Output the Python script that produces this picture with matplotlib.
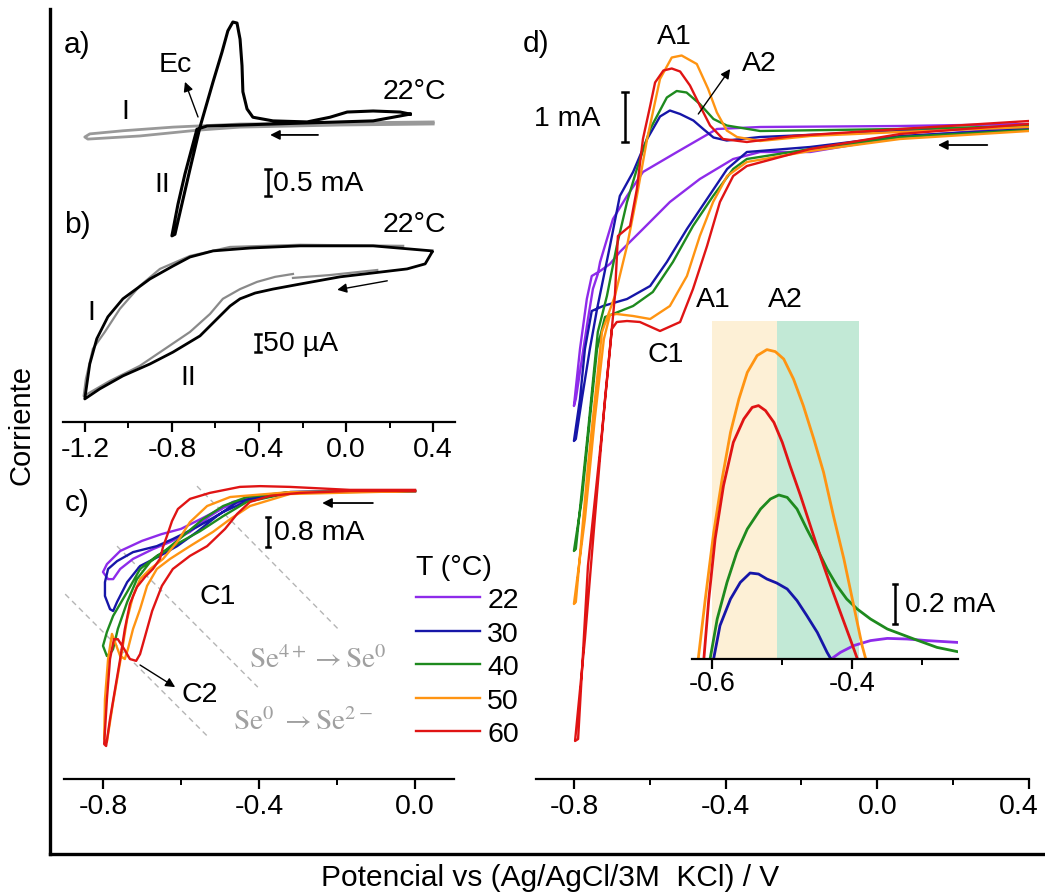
import matplotlib
matplotlib.use("Agg")
import matplotlib.pyplot as plt
from matplotlib.lines import Line2D
from matplotlib.ticker import MultipleLocator
from matplotlib.transforms import ScaledTranslation

plt.rcParams['font.family'] = ['Liberation Sans', 'DejaVu Sans']
plt.rcParams['axes.unicode_minus'] = False
plt.rcParams['mathtext.fontset'] = 'stix'

W, H = 1045, 895
FS = 20.5

# ---------------- data ----------------
temps = ['22', '30', '40', '50', '60']
colors = ['#8E2BEA', '#1616A8', '#1E8A1E', '#FF9412', '#E01414']

# panel a (V, mA)
a_gray_v = [0.40, -0.028, -0.487, -0.795, -1.025, -1.177, -1.2, -1.186, -0.947, -0.685, -0.487, -0.028, 0.40]
a_gray_i = [0.04, 0.02, 0.0, -0.06, -0.13, -0.19, -0.25, -0.29, -0.23, -0.12, -0.06, -0.02, 0.0]
a_black_v = [0.294, 0.124, -0.336, -0.639, -0.685, -0.740, -0.772, -0.800, -0.786, -0.754, -0.717, -0.671,
             -0.611, -0.570, -0.543, -0.520, -0.501, -0.487, -0.478, -0.474, -0.455, -0.428, -0.336, -0.179,
             -0.074, 0.005, 0.124, 0.248, 0.294]
a_black_i = [0.19, 0.06, 0.0, -0.04, -0.10, -0.96, -1.54, -2.15, -2.12, -1.54, -0.87, -0.06,
             0.81, 1.38, 1.79, 1.96, 1.94, 1.63, 1.12, 0.62, 0.29, 0.13, 0.06, 0.04,
             0.13, 0.23, 0.25, 0.23, 0.19]

# panel b (V, uA)
b_black_v = [0.395, 0.124, -0.211, -0.441, -0.611, -0.717, -0.795, -0.901, -1.025, -1.094, -1.145, -1.177, -1.2,
             -1.131, -1.025, -0.901, -0.795, -0.671, -0.593, -0.533, -0.487, -0.418, -0.336, -0.211, -0.028,
             0.280, 0.363, 0.395]
b_black_i = [0, 14, 14, 8, 0, -17, -42, -78, -133, -183, -244, -314, -411,
             -383, -347, -314, -281, -236, -189, -153, -133, -117, -106, -92, -72, -50, -36, -3]
b_gray_v = [0.262, -0.211, -0.533, -0.717, -0.855, -0.947, -1.039, -1.108, -1.163, -1.195, -1.205,
            -1.085, -0.947, -0.832, -0.717, -0.625, -0.566, -0.487, -0.409, -0.326, -0.244]
b_gray_i = [14, 17, 11, -14, -50, -97, -161, -225, -272, -356, -403,
            -361, -319, -272, -225, -175, -133, -106, -86, -72, -64]
b_gray2_v = [-0.244, -0.074, 0.143]
b_gray2_i = [-75, -67, -53]

# panel c (V, mA)
c_v = [
    [0.0, -0.32, -0.42, -0.49, -0.55, -0.60, -0.65, -0.70, -0.756, -0.79, -0.80, -0.787,
     -0.774, -0.756, -0.723, -0.672, -0.628, -0.577, -0.526, -0.467, -0.39, -0.32, 0.0],
    [0.0, -0.321, -0.431, -0.492, -0.559, -0.621, -0.662, -0.723, -0.764, -0.787, -0.795, -0.795, -0.782, -0.774,
     -0.764, -0.738, -0.705, -0.654, -0.610, -0.559, -0.508, -0.456, -0.390, -0.321, 0.0],
    [0.0, -0.321, -0.431, -0.492, -0.551, -0.610, -0.662, -0.705, -0.738, -0.774, -0.790, -0.800, -0.790, -0.777,
     -0.774, -0.762, -0.738, -0.713, -0.679, -0.636, -0.595, -0.544, -0.492, -0.431, -0.321, 0.0],
    [0.0, -0.321, -0.423, -0.474, -0.518, -0.577, -0.628, -0.662, -0.687, -0.705, -0.723, -0.736, -0.744, -0.756,
     -0.777, -0.787, -0.795, -0.797,
     -0.790, -0.774, -0.756, -0.738, -0.723, -0.705, -0.679, -0.646, -0.610, -0.577, -0.533, -0.474, -0.321, 0.0],
    [0.0, -0.167, -0.295, -0.372, -0.423, -0.456, -0.487, -0.533, -0.577, -0.621, -0.649, -0.674, -0.692, -0.705,
     -0.715, -0.731, -0.746, -0.762, -0.772, -0.782, -0.790, -0.797,
     -0.792, -0.782, -0.769, -0.756, -0.744, -0.731, -0.713, -0.692, -0.672, -0.654, -0.646, -0.636, -0.623,
     -0.608, -0.577, -0.526, -0.449, -0.397, -0.321, -0.167, 0.0],
]
c_i = [
    [0.0, -0.03, -0.21, -0.43, -0.75, -1.01, -1.15, -1.33, -1.60, -1.95, -2.16, -2.35,
     -2.35, -2.08, -1.81, -1.55, -1.36, -1.09, -0.67, -0.29, -0.13, -0.03, 0.0],
    [0.0, -0.03, -0.27, -0.56, -0.96, -1.28, -1.47, -1.63, -1.87, -2.08, -2.43, -2.80, -3.15, -3.20,
     -2.96, -2.43, -2.00, -1.73, -1.47, -1.09, -0.67, -0.29, -0.13, -0.03, 0.0],
    [0.0, -0.05, -0.29, -0.67, -1.07, -1.41, -1.73, -2.08, -2.69, -3.33, -3.76, -4.13, -4.40, -4.27,
     -4.21, -3.68, -2.96, -2.35, -1.89, -1.55, -1.20, -0.75, -0.40, -0.16, -0.03, 0.0],
    [0.0, -0.08, -0.40, -0.75, -1.09, -1.47, -1.81, -2.08, -2.53, -3.15, -3.68, -4.21, -4.48, -4.40,
     -3.81, -4.48, -5.55, -6.61,
     -6.69, -5.63, -4.56, -3.41, -2.80, -2.35, -2.08, -1.81, -1.36, -0.83, -0.40, -0.16, -0.03, 0.0],
    [0.0, 0.0, -0.05, -0.13, -0.29, -0.61, -1.01, -1.47, -1.73, -2.08, -2.53, -3.20, -3.87, -4.35,
     -4.53, -4.48, -4.21, -3.95, -3.95, -4.48, -5.55, -6.75,
     -6.80, -6.08, -5.28, -4.48, -3.68, -3.01, -2.56, -2.29, -2.08, -1.81, -1.49, -1.20, -0.80,
     -0.48, -0.21, -0.05, 0.11, 0.13, 0.11, 0.03, 0.03],
]
# guide lines in panel c (V, mA)
c_guides = [((-0.559, -0.197), (0.13, -3.68)),
            ((-0.764, -0.403), (-1.47, -5.23)),
            ((-0.897, -0.533), (-2.75, -6.53))]

# panel d (V, mA)
d_v = [
    [0.4, 0.06, -0.177, -0.309, -0.380, -0.468, -0.547, -0.618, -0.679, -0.705, -0.731, -0.753, -0.766, -0.784, -0.800,
     -0.795, -0.779, -0.763, -0.750, -0.737, -0.731, -0.697, -0.660, -0.618, -0.528, -0.423, -0.309, 0.06, 0.4],
    [0.4, 0.06, -0.177, -0.344, -0.396, -0.449, -0.502, -0.555, -0.599, -0.660, -0.723, -0.753, -0.771, -0.784, -0.800,
     -0.795, -0.779, -0.758, -0.739, -0.705, -0.679, -0.644, -0.607, -0.573, -0.547, -0.520, -0.485, -0.459,
     -0.432, -0.397, -0.309, 0.06, 0.4],
    [0.4, 0.06, -0.177, -0.344, -0.380, -0.433, -0.486, -0.539, -0.592, -0.644, -0.697, -0.718, -0.739, -0.758,
     -0.779, -0.800,
     -0.795, -0.763, -0.737, -0.713, -0.687, -0.660, -0.634, -0.599, -0.555, -0.529, -0.503, -0.468, -0.432,
     -0.397, -0.309, 0.06, 0.4],
    [0.4, 0.06, -0.177, -0.344, -0.396, -0.433, -0.468, -0.502, -0.547, -0.599, -0.644, -0.687, -0.705, -0.721,
     -0.745, -0.771, -0.800,
     -0.795, -0.763, -0.726, -0.692, -0.660, -0.634, -0.607, -0.573, -0.542, -0.516, -0.476, -0.446, -0.423,
     -0.397, -0.370, -0.309, -0.177, 0.06, 0.4],
    [0.4, 0.06, -0.177, -0.344, -0.380, -0.415, -0.449, -0.486, -0.520, -0.573, -0.626, -0.660, -0.687, -0.700,
     -0.718, -0.745, -0.771, -0.797,
     -0.789, -0.763, -0.726, -0.705, -0.692, -0.684, -0.652, -0.634, -0.618, -0.599, -0.586, -0.564, -0.542,
     -0.520, -0.494, -0.468, -0.441, -0.407, -0.344, -0.222, 0.06, 0.4],
]
d_i = [
    [0.04, -0.16, -0.46, -0.46, -0.60, -1.00, -1.46, -2.00, -2.46, -2.70, -2.84, -2.94, -3.40, -4.40, -5.54,
     -5.40, -4.60, -3.80, -3.20, -2.90, -2.66, -1.80, -1.34, -0.86, -0.46, 0.0, 0.04, 0.06, 0.10],
    [0.0, -0.14, -0.36, -0.46, -0.80, -1.40, -2.00, -2.66, -3.14, -3.40, -3.54, -3.64, -4.40, -5.40, -6.24,
     -6.20, -5.40, -4.40, -3.60, -2.34, -1.34, -0.86, -0.20, 0.25, 0.37, 0.30, 0.17, 0.0,
     -0.17, -0.23, -0.16, -0.04, 0.04],
    [-0.02, -0.16, -0.40, -0.60, -0.80, -1.34, -1.94, -2.66, -3.26, -3.54, -3.70, -3.76, -4.40, -5.80,
     -7.40, -8.44,
     -8.40, -6.06, -4.06, -3.34, -2.34, -1.46, -0.80, 0.0, 0.63, 0.76, 0.73, 0.50, 0.20,
     0.07, -0.04, 0.0, 0.06],
    [-0.04, -0.20, -0.44, -0.66, -0.94, -1.46, -2.14, -2.94, -3.54, -3.80, -3.74, -3.70, -3.72, -4.20,
     -5.80, -7.80, -9.50,
     -9.46, -6.74, -4.06, -3.34, -2.34, -1.34, -0.20, 1.00, 1.43, 1.47, 1.30, 0.80, 0.33,
     -0.03, -0.16, -0.24, -0.14, -0.06, 0.04],
    [0.10, -0.10, -0.40, -0.74, -0.94, -1.46, -2.34, -3.20, -3.86, -4.04, -3.86, -3.84, -3.86, -4.00,
     -5.40, -7.80, -10.20, -12.24,
     -12.20, -8.74, -6.06, -4.40, -3.34, -2.14, -1.94, -1.20, -0.20, 0.46, 0.93, 1.17, 1.21,
     1.15, 0.87, 0.47, 0.07, -0.20, -0.26, -0.14, 0.0, 0.16],
]

# inset of panel d: anodic peaks (V, mA above baseline)
ins_v = [
    [-0.429, -0.417, -0.398, -0.374, -0.350, -0.322, -0.293, -0.250],
    [-0.598, -0.589, -0.574, -0.560, -0.546, -0.534, -0.522, -0.508, -0.493, -0.479, -0.465, -0.450, -0.436, -0.431],
    [-0.603, -0.593, -0.579, -0.565, -0.550, -0.531, -0.517, -0.505, -0.493, -0.479, -0.465, -0.450, -0.436,
     -0.422, -0.408, -0.393, -0.374, -0.350, -0.312, -0.279, -0.250],
    [-0.620, -0.610, -0.598, -0.586, -0.574, -0.562, -0.550, -0.536, -0.522, -0.510, -0.498, -0.484, -0.470,
     -0.455, -0.441, -0.427, -0.412, -0.398, -0.386, -0.381],
    [-0.612, -0.605, -0.596, -0.584, -0.570, -0.555, -0.543, -0.534, -0.524, -0.512, -0.500, -0.489, -0.474,
     -0.460, -0.446, -0.431, -0.417, -0.403, -0.393],
]
ins_i = [
    [0.003, 0.033, 0.067, 0.092, 0.103, 0.100, 0.092, 0.083],
    [0.003, 0.167, 0.300, 0.383, 0.430, 0.425, 0.400, 0.380, 0.350, 0.292, 0.217, 0.133, 0.033, 0.003],
    [0.003, 0.200, 0.383, 0.533, 0.650, 0.750, 0.800, 0.820, 0.808, 0.750, 0.650, 0.550, 0.450,
     0.367, 0.300, 0.250, 0.200, 0.150, 0.100, 0.058, 0.037],
    [0.003, 0.300, 0.633, 0.900, 1.133, 1.300, 1.433, 1.517, 1.547, 1.537, 1.500, 1.400, 1.267,
     1.100, 0.933, 0.717, 0.500, 0.267, 0.067, 0.003],
    [0.003, 0.300, 0.600, 0.867, 1.083, 1.200, 1.258, 1.267, 1.242, 1.183, 1.083, 0.967, 0.817,
     0.667, 0.517, 0.367, 0.233, 0.100, 0.003],
]
a1_span = (-0.600, -0.507)
a2_span = (-0.507, -0.391)


# ---------------- helpers ----------------
def box(x0, y0, x1, y1):
    return [x0 / W, 1 - y1 / H, (x1 - x0) / W, (y1 - y0) / H]


def bare(ax, bottom=False):
    for s in ['top', 'right', 'left', 'bottom']:
        ax.spines[s].set_visible(False)
    ax.set_yticks([])
    ax.patch.set_alpha(0)
    if bottom:
        ax.spines['bottom'].set_visible(True)
        ax.spines['bottom'].set_linewidth(1.6)
        ax.tick_params(axis='x', which='major', direction='out', length=7, width=1.6,
                       labelsize=FS, pad=3)
        ax.tick_params(axis='x', which='minor', direction='out', length=4, width=1.4)
    else:
        ax.set_xticks([])


def scalebar(ax, x, y0, y1, label, dx, gap=2.0):
    ax.plot([x, x], [y0, y1], color='k', lw=1.8, solid_capstyle='butt', clip_on=False)
    ax.plot([x - dx, x + dx], [y0, y0], color='k', lw=1.8, clip_on=False)
    ax.plot([x - dx, x + dx], [y1, y1], color='k', lw=1.8, clip_on=False)
    if label:
        ax.text(x + gap * dx, (y0 + y1) / 2, label, fontsize=FS, va='center', ha='left')


def arrow(ax, x0, y0, x1, y1, lw=1.3):
    ax.annotate('', xy=(x1, y1), xytext=(x0, y0),
                arrowprops=dict(arrowstyle='-|>', color='k', lw=lw, mutation_scale=14,
                                shrinkA=0, shrinkB=0))


fig = plt.figure(figsize=(W / 100, H / 100), dpi=100)

# ---------------- panel a ----------------
ax_a = fig.add_axes(box(63, 10, 455, 240))
bare(ax_a)
ax_a.set_xlim(-1.3, 0.5)
ax_a.set_ylim(-2.21, 2.21)
ax_a.plot(a_gray_v, a_gray_i, color='#999999', lw=2.0)
ax_a.plot(a_black_v, a_black_i, color='k', lw=2.2)
scalebar(ax_a, -0.359, -0.865, -1.385, '0.5 mA', 0.012)
arrow(ax_a, -0.129, -0.21, -0.349, -0.21)
arrow(ax_a, -0.680, 0.135, -0.740, 0.81, lw=1.0)
ax_a.text(-0.786, 1.15, 'Ec', fontsize=FS, ha='center', va='center')
ax_a.text(-1.016, 0.25, 'I', fontsize=FS, ha='center', va='center')
ax_a.text(-0.846, -1.15, 'II', fontsize=FS, ha='center', va='center')
ax_a.text(0.46, 0.63, '22°C', fontsize=FS, ha='right', va='center')
ax_a.text(-1.295, 1.54, 'a)', fontsize=FS + 1, ha='left', va='center')

# ---------------- panel b ----------------
ax_b = fig.add_axes(box(63, 195, 455, 423))
bare(ax_b, bottom=True)
ax_b.set_xlim(-1.3, 0.5)
ax_b.set_ylim(-475, 158)
ax_b.plot(b_gray_v, b_gray_i, color='#8a8a8a', lw=1.6)
ax_b.plot(b_gray2_v, b_gray2_i, color='#8a8a8a', lw=1.6)
ax_b.plot(b_black_v, b_black_i, color='k', lw=2.0)
ax_b.set_xticks([-1.2, -0.8, -0.4, 0.0, 0.4])
ax_b.set_xticklabels(['-1.2', '-0.8', '-0.4', '0.0', '0.4'])
ax_b.xaxis.set_minor_locator(MultipleLocator(0.2))
scalebar(ax_b, -0.405, -231, -281, '50 \u00b5A', 0.012)
arrow(ax_b, 0.189, -83, -0.041, -108, lw=1.0)
ax_b.text(-1.168, -169, 'I', fontsize=FS, ha='center', va='center')
ax_b.text(-0.726, -350, 'II', fontsize=FS, ha='center', va='center')
ax_b.text(0.46, 75, '22°C', fontsize=FS, ha='right', va='center')
ax_b.text(-1.295, 75, 'b)', fontsize=FS + 1, ha='left', va='center')

# ---------------- panel c ----------------
ax_c = fig.add_axes(box(64, 470, 454, 780))
bare(ax_c, bottom=True)
ax_c.set_xlim(-0.9, 0.1)
ax_c.set_ylim(-7.68, 0.587)
for (gv, gi) in c_guides:
    ax_c.plot(gv, gi, color='#b5b5b5', lw=1.0, ls=(0, (4, 3)))
for k in range(5):
    ax_c.plot(c_v[k], c_i[k], color=colors[k], lw=1.7, label=temps[k])
ax_c.set_xticks([-0.8, -0.4, 0.0])
ax_c.set_xticklabels(['-0.8', '-0.4', '0.0'])
ax_c.set_xticks([-0.6, -0.2], minor=True)
scalebar(ax_c, -0.377, -0.69, -1.49, '0.8 mA', 0.006, gap=2.6)
arrow(ax_c, -0.108, -0.32, -0.238, -0.32)
arrow(ax_c, -0.705, -4.64, -0.615, -5.23, lw=1.0)
ax_c.text(-0.505, -2.80, 'C1', fontsize=FS, ha='center', va='center')
ax_c.text(-0.551, -5.41, 'C2', fontsize=FS, ha='center', va='center')
ax_c.text(-0.249, -4.48, r'$\mathrm{Se}^{4+}\rightarrow\mathrm{Se}^{0}$', fontsize=21,
          color='#a0a0a0', ha='center', va='center')
ax_c.text(-0.287, -6.13, r'$\mathrm{Se}^{0}\;\rightarrow\mathrm{Se}^{2-}$', fontsize=21,
          color='#a0a0a0', ha='center', va='center')
ax_c.text(-0.897, -0.29, 'c)', fontsize=FS + 1, ha='left', va='center')
leg = ax_c.legend(loc='upper left', bbox_to_anchor=(416 / W, 1 - 555 / H),
                  bbox_transform=fig.transFigure, frameon=False, fontsize=FS,
                  title='T (°C)', title_fontsize=FS, handlelength=2.25, handletextpad=0.25,
                  labelspacing=0.26, borderpad=0, borderaxespad=0, alignment='left')

# ---------------- panel d ----------------
ax_d = fig.add_axes(box(536, 10, 1029, 780))
bare(ax_d, bottom=True)
ax_d.set_xlim(-0.9, 0.4)
ax_d.set_ylim(-13.0, 2.4)
for k in range(5):
    ax_d.plot(d_v[k], d_i[k], color=colors[k], lw=1.7)
ax_d.set_xticks([-0.8, -0.4, 0.0, 0.4])
ax_d.set_xticklabels(['-0.8', '-0.4', '0.0', '0.4'])
ax_d.set_xticks([-0.6, -0.2, 0.2], minor=True)
# keep the last tick label inside the figure edge
last = ax_d.get_xticklabels()[-1]
last.set_transform(last.get_transform() + ScaledTranslation(-0.1, 0, fig.dpi_scale_trans))
scalebar(ax_d, -0.665, 0.74, -0.26, '', 0.008)
ax_d.text(-0.731, 0.22, '1 mA', fontsize=FS, ha='right', va='center')
arrow(ax_d, 0.290, -0.32, 0.160, -0.32)
arrow(ax_d, -0.472, 0.30, -0.388, 1.20, lw=1.0)
ax_d.text(-0.536, 1.86, 'A1', fontsize=FS, ha='center', va='center')
ax_d.text(-0.312, 1.32, 'A2', fontsize=FS, ha='center', va='center')
ax_d.text(-0.557, -4.50, 'C1', fontsize=FS, ha='center', va='center')
ax_d.text(-0.432, -3.40, 'A1', fontsize=FS, ha='center', va='center')
ax_d.text(-0.242, -3.40, 'A2', fontsize=FS, ha='center', va='center')
ax_d.text(-0.935, 1.72, 'd)', fontsize=FS + 1, ha='left', va='center')

# ---------------- inset ----------------
ax_in = fig.add_axes(box(692, 300, 958, 660))
bare(ax_in, bottom=True)
ax_in.set_xlim(-0.629, -0.249)
ax_in.set_ylim(0, 1.8)
ax_in.axvspan(a1_span[0], a1_span[1], ymax=1.69 / 1.8, color='#fdf0d6', lw=0, zorder=0)
ax_in.axvspan(a2_span[0], a2_span[1], ymax=1.69 / 1.8, color='#c2e9d6', lw=0, zorder=0)
for k in range(5):
    ax_in.plot(ins_v[k], ins_i[k], color=colors[k], lw=2.0)
ax_in.set_xticks([-0.6, -0.4])
ax_in.set_xticklabels(['-0.6', '-0.4'])
ax_in.set_xticks([-0.5, -0.3], minor=True)
ax_in.tick_params(axis='x', labelsize=FS - 1, pad=1)
scalebar(ax_in, -0.339, 0.375, 0.175, '0.2 mA', 0.003, gap=5.0)

# ---------------- frame and common labels ----------------
fig.add_artist(Line2D([50 / W, 50 / W], [1 - 10 / H, 1 - 855 / H], color='k', lw=2.4))
fig.add_artist(Line2D([50 / W, 1.0], [1 - 855 / H, 1 - 855 / H], color='k', lw=2.4))
fig.text(22 / W, 1 - 425 / H, 'Corriente', rotation=90, fontsize=21, ha='center', va='center')
fig.text(550 / W, 1 - 878 / H, 'Potencial vs (Ag/AgCl/3M  KCl) / V', fontsize=21.5,
         ha='center', va='center')

fig.savefig('out.png', dpi=100)
